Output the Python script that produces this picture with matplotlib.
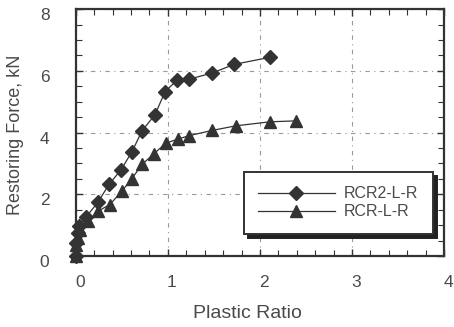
import matplotlib.pyplot as plt
import matplotlib.transforms as mtransforms
from matplotlib.ticker import MultipleLocator

# RCR2-L-R specimen
x_rcr2 = [0.0, 0.0, 0.02, 0.04, 0.11, 0.24, 0.36, 0.49, 0.61, 0.72, 0.86, 0.97, 1.10, 1.23, 1.48, 1.72, 2.11]
f_rcr2 = [0.0, 0.42, 0.74, 0.96, 1.26, 1.74, 2.32, 2.79, 3.38, 4.06, 4.58, 5.33, 5.70, 5.73, 5.93, 6.21, 6.44]

# RCR-L-R specimen
x_rcr = [0.0, 0.0, 0.02, 0.05, 0.13, 0.24, 0.37, 0.50, 0.61, 0.72, 0.85, 0.98, 1.11, 1.23, 1.48, 1.74, 2.11, 2.39]
f_rcr = [0.0, 0.36, 0.58, 0.85, 1.12, 1.45, 1.67, 2.10, 2.51, 2.97, 3.32, 3.66, 3.79, 3.90, 4.07, 4.22, 4.35, 4.38]

plt.rcParams['font.family'] = ['Liberation Sans', 'DejaVu Sans']
ink = '#333333'
txt = '#4a4a4a'

fig = plt.figure(figsize=(4.54, 3.27), dpi=100)
ax = fig.add_axes([0.167, 0.217, 0.811, 0.755])

ax.plot(x_rcr2, f_rcr2, color=ink, lw=0.9, marker='D', ms=7.5, mfc=ink, mec=ink,
        label='RCR2-L-R', zorder=3, clip_on=False)
ax.plot(x_rcr, f_rcr, color=ink, lw=0.9, marker='^', ms=9, mfc=ink, mec=ink,
        label='RCR-L-R', zorder=3, clip_on=False)

ax.set_xlim(0, 4)
ax.set_ylim(0, 8)
ax.xaxis.set_major_locator(MultipleLocator(1))
ax.xaxis.set_minor_locator(MultipleLocator(0.2))
ax.yaxis.set_major_locator(MultipleLocator(2))
ax.yaxis.set_minor_locator(MultipleLocator(0.5))
ax.tick_params(which='both', direction='in', top=True, right=True, color=ink)
ax.tick_params(which='major', length=5, width=1, labelsize=12.5, labelcolor=txt)
ax.tick_params(axis='x', which='major', pad=14)
ax.tick_params(axis='y', which='major', pad=19)
ax.tick_params(which='minor', length=4, width=0.8)
ax.grid(True, which='major', color='#999999', ls=(0, (4, 4, 1, 4)), lw=0.8)
for s in ax.spines.values():
    s.set_linewidth(1.6)
    s.set_color(ink)

# tick labels sit a little off their ticks: x labels to the right, y labels lower
dx = mtransforms.ScaledTranslation(4 / 100, 0, fig.dpi_scale_trans)
dy = mtransforms.ScaledTranslation(0, -5 / 100, fig.dpi_scale_trans)
for lab in ax.get_xticklabels():
    lab.set_transform(lab.get_transform() + dx)
for lab in ax.get_yticklabels():
    lab.set_transform(lab.get_transform() + dy)

ax.set_xlabel('Plastic Ratio', fontsize=14, color=txt)
ax.xaxis.set_label_coords(0.465, -0.2)
ax.set_ylabel('Restoring Force, kN', fontsize=13, color=txt)
ax.yaxis.set_label_coords(-0.14, 0.49)

leg = ax.legend(loc='lower right', bbox_to_anchor=(0.97, 0.09), fontsize=11.5,
                frameon=True, fancybox=False, edgecolor=ink, framealpha=1,
                shadow={'color': '#222222', 'alpha': 1, 'ox': 3, 'oy': -3},
                handlelength=4.8, borderpad=0.9, labelspacing=0.2, handletextpad=0.6,
                borderaxespad=0)
leg.get_frame().set_linewidth(1.4)
for t in leg.get_texts():
    t.set_color(txt)

fig.savefig('out.png', dpi=100)
